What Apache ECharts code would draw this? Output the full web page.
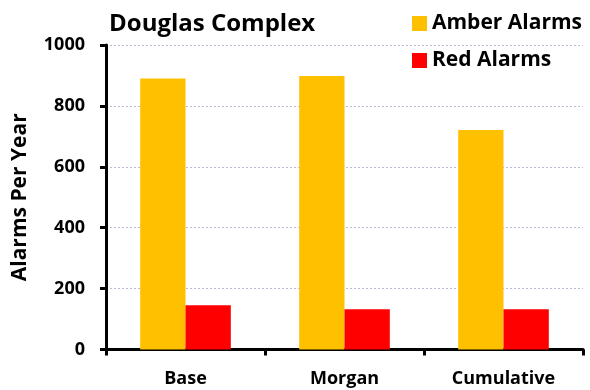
<!DOCTYPE html>
<html><head><meta charset="utf-8">
<script src="https://cdn.jsdelivr.net/npm/echarts@6/dist/echarts.min.js"></script>
<style>html,body{margin:0;padding:0;background:#fff}#c{width:590px;height:390px}</style>
</head><body><div id="c"></div>
<script>
const categories = ['Base', 'Morgan', 'Cumulative'];
const amberAlarms = [890, 898, 721];
const redAlarms = [145, 132, 132];
const yTicks = [0, 200, 400, 600, 800, 1000];

const FONT = 'Open Sans';
const chart = echarts.init(document.getElementById('c'));
chart.setOption({
  animation: false,
  textStyle: { fontFamily: FONT },
  title: {
    text: 'Douglas Complex', left: 104, top: 7,
    textStyle: { fontFamily: FONT, fontWeight: 'bold', fontSize: 24, color: '#000' }
  },
  legend: {
    orient: 'vertical', left: 407, top: 8, itemWidth: 15, itemHeight: 15, itemGap: 16,
    icon: 'rect',
    textStyle: { fontFamily: FONT, fontWeight: 'bold', fontSize: 21, color: '#000', padding: [0, 0, 0, 0] },
    data: ['Amber Alarms', 'Red Alarms']
  },
  grid: { left: 106, right: 7, top: 45, bottom: 40.5, containLabel: false },
  xAxis: {
    type: 'category', data: categories,
    axisLine: { lineStyle: { color: '#000', width: 3 } },
    axisTick: { show: true, length: 6, lineStyle: { color: '#000', width: 3 }, alignWithLabel: false },
    axisLabel: { fontFamily: FONT, fontWeight: 'bold', fontSize: 18, color: '#000', margin: 20 }
  },
  yAxis: {
    type: 'value', min: yTicks[0], max: yTicks[yTicks.length - 1], interval: 200,
    name: 'Alarms Per Year', nameLocation: 'middle', nameGap: 75, nameRotate: 90,
    nameTextStyle: { fontFamily: FONT, fontWeight: 'bold', fontSize: 21, color: '#000' },
    axisLine: { show: true, lineStyle: { color: '#000', width: 3 } },
    axisTick: { show: true, length: 6, lineStyle: { color: '#000', width: 3 } },
    axisLabel: { fontFamily: FONT, fontWeight: 'bold', fontSize: 18, color: '#000', margin: 21, formatter: v => String(v) },
    splitLine: { show: true, lineStyle: { color: '#b8bcd8', type: [2, 2], width: 1 } }
  },
  series: [
    { name: 'Amber Alarms', type: 'bar', data: amberAlarms, itemStyle: { color: '#FFC000' }, barGap: '0%', barCategoryGap: '43%' },
    { name: 'Red Alarms', type: 'bar', data: redAlarms, itemStyle: { color: '#FF0000' }, barGap: '0%', barCategoryGap: '43%' }
  ]
});
</script></body></html>
